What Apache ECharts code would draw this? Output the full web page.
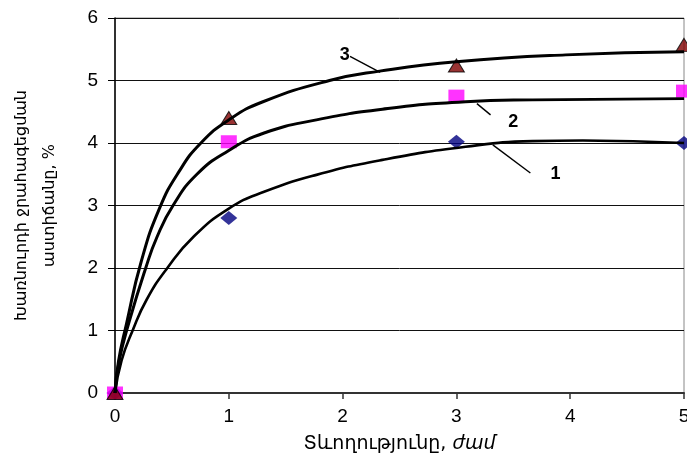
<!DOCTYPE html>
<html><head><meta charset="utf-8">
<script src="https://cdn.jsdelivr.net/npm/echarts@6/dist/echarts.min.js"></script>
<style>html,body{margin:0;padding:0;background:#fff}#c{width:687px;height:457px}</style>
</head><body><div id="c"></div>
<script>
// measured points (hours vs %)
const hours = [0, 1, 3, 5];
const series1 = [0, 2.8, 4.02, 4.0];
const series2 = [0, 4.02, 4.75, 4.83];
const series3 = [0, 4.4, 5.24, 5.57];

// trend curves
const trend1X = [0, 0.058, 0.155, 0.28, 0.46, 0.69, 1, 1.31, 1.77, 2.35, 3.08, 3.67, 4.11, 5];
const trend1Y = [0, 0.52, 1, 1.5, 2, 2.5, 2.95, 3.22, 3.49, 3.73, 3.94, 4.03, 4.04, 4.0];
const trend2X = [0, 0.035, 0.126, 0.27, 0.37, 0.51, 0.72, 1, 1.31, 1.77, 2.35, 3.08, 3.67, 5];
const trend2Y = [0, 0.5, 1.15, 2, 2.5, 3, 3.5, 3.88, 4.16, 4.37, 4.54, 4.66, 4.69, 4.71];
const trend3X = [0, 0.03, 0.10, 0.23, 0.39, 0.565, 0.755, 1, 1.3, 1.885, 2.325, 3, 3.96, 5];
const trend3Y = [0, 0.5, 1.1, 2.1, 2.95, 3.55, 4, 4.37, 4.66, 5.0, 5.15, 5.3, 5.41, 5.46];

// curve labels and their leader lines (data space)
const curveNames = ['1', '2', '3'];
const labelPos = [[3.87, 3.51], [3.50, 4.33], [2.02, 5.40]];
const leaderFrom = [[3.32, 3.97], [3.18, 4.63], [2.065, 5.385]];
const leaderTo = [[3.65, 3.52], [3.30, 4.45], [2.33, 5.13]];

const xTicks = [0, 1, 2, 3, 4, 5];
const yTicks = [0, 1, 2, 3, 4, 5, 6];
const xTitle = 'Տևողությունը, ';
const xUnit = 'ժամ';
const yTitle = 'Խառնուրդի ջրահագեցման\nաստիճանը, %';

const zip = (a, b) => a.map((v, i) => [v, b[i]]);
const trends = [[trend1X, trend1Y], [trend2X, trend2Y], [trend3X, trend3Y]];

const chart = echarts.init(document.getElementById('c'), null, {renderer: 'canvas'});
const trendSeries = trends.map((t, i) => ({
  type: 'line',
  data: zip(t[0], t[1]),
  smooth: 0.5,
  showSymbol: false,
  silent: true,
  z: 5,
  lineStyle: {color: '#000', width: i === 0 ? 2.6 : 3},
  markLine: {
    silent: true, symbol: 'none', animation: false,
    lineStyle: {color: '#000', width: 1.4, type: 'solid'},
    label: {show: false},
    data: [[{coord: leaderFrom[i]}, {coord: leaderTo[i]}]]
  },
  markPoint: {
    silent: true, animation: false,
    symbol: 'circle', symbolSize: 1,
    itemStyle: {color: 'rgba(0,0,0,0)'},
    label: {show: true, position: 'inside', formatter: curveNames[i], color: '#000',
      fontSize: 18, fontWeight: 'bold', fontFamily: 'Liberation Sans'},
    data: [{coord: labelPos[i]}]
  }
}));

chart.setOption({
  animation: false,
  backgroundColor: '#fff',
  grid: {left: 115, right: 3, top: 18, bottom: 64, show: true, borderColor: '#888', borderWidth: 1,
    containLabel: false, outerBoundsMode: 'none'},
  xAxis: {
    type: 'value', min: xTicks[0], max: xTicks[xTicks.length - 1], interval: 1,
    axisLine: {show: true, lineStyle: {color: '#333', width: 2}},
    axisTick: {show: true, length: 6, lineStyle: {color: '#333', width: 1.5}},
    splitLine: {show: false},
    axisLabel: {fontSize: 19, color: '#000', margin: 14, fontFamily: 'Liberation Sans'},
    name: '{a|' + xTitle + '}{b|' + xUnit + '}',
    nameLocation: 'middle', nameGap: 42,
    nameTextStyle: {rich: {
      a: {fontSize: 19, color: '#000', fontFamily: 'DejaVu Sans'},
      b: {fontSize: 19, color: '#000', fontStyle: 'italic', fontFamily: 'DejaVu Sans'}
    }}
  },
  yAxis: {
    type: 'value', min: yTicks[0], max: yTicks[yTicks.length - 1], interval: 1,
    axisLine: {show: true, lineStyle: {color: '#000', width: 1.5}},
    axisTick: {show: true, length: 7, lineStyle: {color: '#000', width: 1}},
    splitLine: {show: true, lineStyle: {color: '#111', width: 1}},
    axisLabel: {fontSize: 19, color: '#000', margin: 17, fontFamily: 'Liberation Sans'},
    name: yTitle, nameLocation: 'middle', nameGap: 51, nameRotate: 90,
    nameTextStyle: {fontSize: 16, color: '#000', lineHeight: 28, fontFamily: 'DejaVu Sans', align: 'center'}
  },
  series: [
    {type: 'scatter', data: zip(hours, series1), symbol: 'diamond', symbolSize: [17, 14],
      itemStyle: {color: '#000080'}, z: 3},
    {type: 'scatter', data: zip(hours, series2), symbol: 'rect', symbolSize: [16, 13],
      itemStyle: {color: '#FF00FF'}, z: 3},
    {type: 'scatter', data: zip(hours, series3), symbol: 'triangle', symbolSize: [16, 13],
      itemStyle: {color: '#800000', borderColor: '#000', borderWidth: 1}, z: 4}
  ].concat(trendSeries)
});
</script></body></html>
